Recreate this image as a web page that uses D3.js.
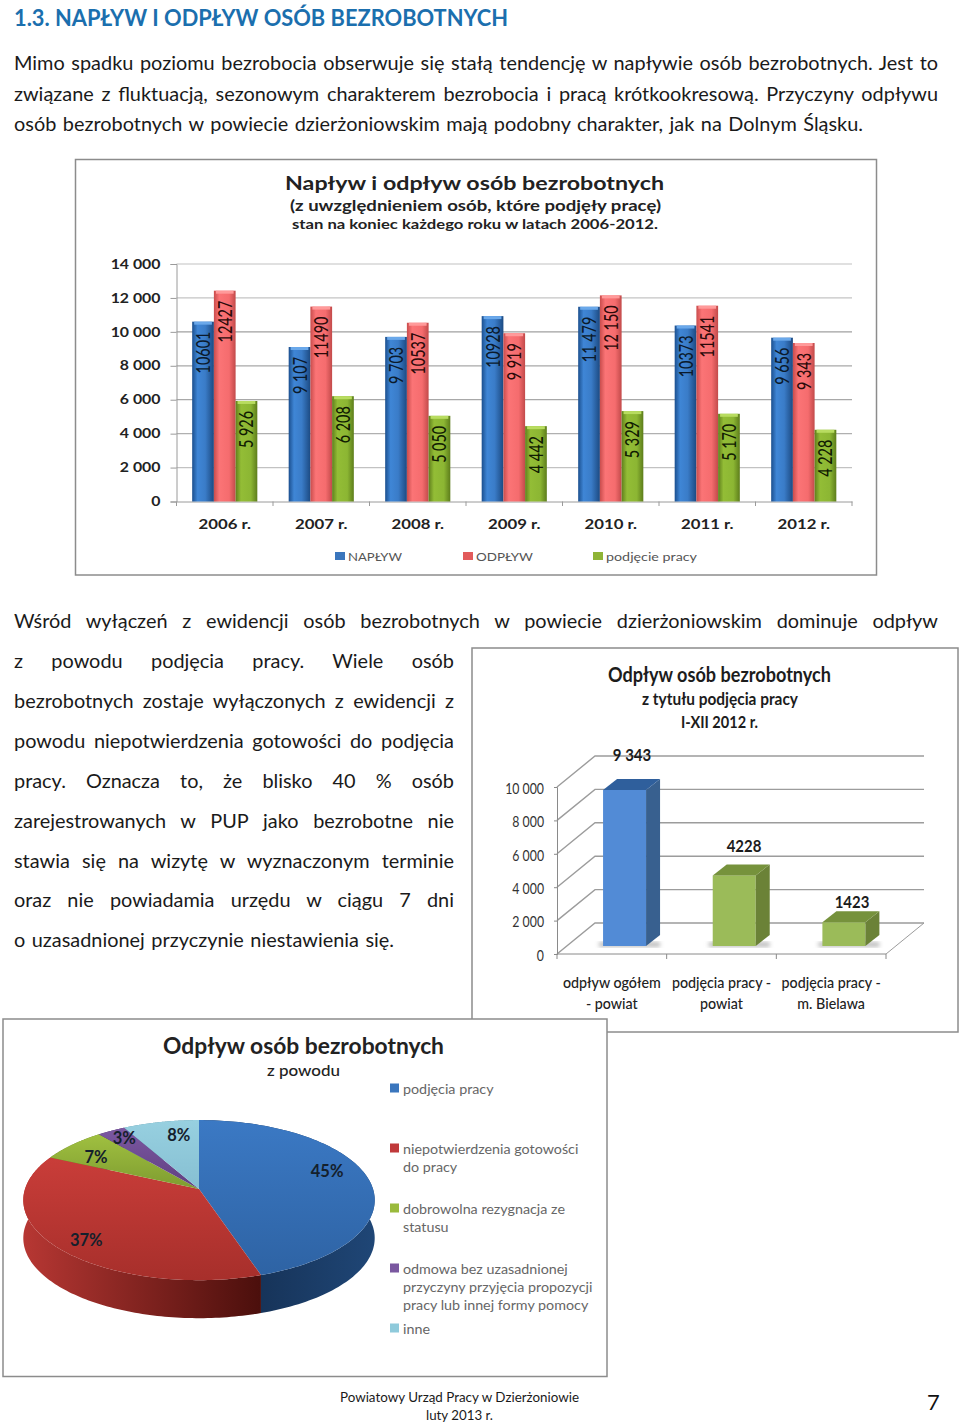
<!DOCTYPE html>
<html><head><meta charset="utf-8">
<script src="https://cdn.jsdelivr.net/npm/d3@7"></script>
<style>html,body{margin:0;padding:0;background:#fff}svg{display:block}text{font-family:Lato,"Open Sans",sans-serif}</style>
</head><body><svg id="s" width="960" height="1423"></svg>
<script>
// ---------- data ----------
const years = ["2006 r.","2007 r.","2008 r.","2009 r.","2010 r.","2011 r.","2012 r."];
const seriesNames = ["NAPŁYW","ODPŁYW","podjęcie pracy"];
const naplyw = [10601,9107,9703,10928,11479,10373,9656];
const odplyw = [12427,11490,10537,9919,12150,11541,9343];
const podjecie = [5926,6208,5050,4442,5329,5170,4228];
const naplywLabels = ["10601","9 107","9 703","10928","11 479","10373","9 656"];
const odplywLabels = ["12427","11490","10537","9 919","12 150","11541","9 343"];
const podjecieLabels = ["5 926","6 208","5 050","4 442","5 329","5 170","4 228"];
const ticks1 = [0,2000,4000,6000,8000,10000,12000,14000];
const tickLabels1 = ["0","2 000","4 000","6 000","8 000","10 000","12 000","14 000"];

const cats2 = ["odpływ ogółem|- powiat","podjęcia pracy -|powiat","podjęcia pracy -|m. Bielawa"];
const values2 = [9343,4228,1423];
const valueLabels2 = ["9 343","4228","1423"];
const ticks2 = [0,2000,4000,6000,8000,10000];
const tickLabels2 = ["0","2 000","4 000","6 000","8 000","10 000"];

const pieNames = ["podjęcia pracy","niepotwierdzenia gotowości|do pracy","dobrowolna rezygnacja ze|statusu","odmowa bez uzasadnionej|przyczyny przyjęcia propozycji|pracy lub innej formy pomocy","inne"];
const pieValues = [45,37,7,3,8];

const heading = "1.3. NAPŁYW I ODPŁYW OSÓB BEZROBOTNYCH";
const para1 = ["Mimo spadku poziomu bezrobocia obserwuje się stałą tendencję w napływie osób bezrobotnych. Jest to",
"związane z fluktuacją, sezonowym charakterem bezrobocia i pracą krótkookresową. Przyczyny odpływu",
"osób bezrobotnych w powiecie dzierżoniowskim mają podobny charakter, jak na Dolnym Śląsku."];
const para2 = ["Wśród wyłączeń z ewidencji osób bezrobotnych w powiecie dzierżoniowskim dominuje odpływ",
"z powodu podjęcia pracy. Wiele osób","bezrobotnych zostaje wyłączonych z ewidencji z",
"powodu niepotwierdzenia gotowości do podjęcia","pracy. Oznacza to, że blisko 40 % osób",
"zarejestrowanych w PUP jako bezrobotne nie","stawia się na wizytę w wyznaczonym terminie",
"oraz nie powiadamia urzędu w ciągu 7 dni","o uzasadnionej przyczynie niestawienia się."];

// ---------- helpers ----------
const svg = d3.select("#s");
const defs = svg.append("defs");
function T(p,str,x,y,o={}){
  const t=p.append("text").attr("x",x).attr("y",y).text(str)
    .attr("font-size",o.size||14).attr("font-weight",o.weight||400)
    .attr("fill",o.fill||"#111").attr("text-anchor",o.anchor||"start");
  if(o.w) t.attr("textLength",o.w).attr("lengthAdjust","spacingAndGlyphs");
  if(o.stretch) t.attr("textLength",t.node().getComputedTextLength()*o.stretch).attr("lengthAdjust","spacingAndGlyphs");
  if(o.justify!==undefined){
    const n=(str.match(/ /g)||[]).length, W=t.node().getComputedTextLength();
    t.style("word-spacing",((o.justify-W)/n)+"px");
  }
  return t;
}
function grad(id,stops,attrs){
  const g=defs.append("linearGradient").attr("id",id);
  Object.entries(attrs||{x1:0,y1:0,x2:1,y2:0}).forEach(([k,v])=>g.attr(k,v));
  stops.forEach(([o,c])=>g.append("stop").attr("offset",o).attr("stop-color",c));
}
function box(x0,y0,x1,y1){
  svg.append("rect").attr("x",x0).attr("y",y0).attr("width",x1-x0).attr("height",y1-y0)
    .attr("fill","#fff").attr("stroke","#8c8c8c").attr("stroke-width",1.5);
}

// ---------- page text ----------
T(svg,heading,14,26,{size:22,weight:700,fill:"#1b6fae",w:494});
[938,938,863].forEach((e,i)=>T(svg,para1[i],14,[70,101,131][i],{size:19.9,fill:"#1a1a1a",justify:e-14}));
const p2Ends=[938,454,454,454,454,454,454,454,394], p2Y=[628,668,708,748,788,828,868,907,947];
para2.forEach((l,i)=>T(svg,l,14,p2Y[i],{size:19.9,fill:"#1a1a1a",justify:p2Ends[i]-14}));

// ---------- chart 1 ----------
box(75.5,159.5,876.5,575);
T(svg,"Napływ i odpływ osób bezrobotnych",285,190,{size:19,weight:700,w:379,fill:"#222"});
T(svg,"(z uwzględnieniem osób, które podjęły pracę)",290,211,{size:15,weight:700,w:371,fill:"#222"});
T(svg,"stan na koniec każdego roku w latach 2006-2012.",292,229,{size:13.5,weight:700,w:366,fill:"#222"});

const x1=d3.scaleBand().domain(years).range([176.5,852]).paddingInner(0.325).paddingOuter(0.1625);
const y1=d3.scaleLinear().domain([0,14000]).range([501.5,264]);
const inner=d3.scaleBand().domain(seriesNames).range([0,x1.bandwidth()]);
const g1=svg.append("g");
g1.append("g").selectAll("line").data(ticks1.slice(1)).join("line")
  .attr("x1",176.5).attr("x2",852).attr("y1",d=>y1(d)).attr("y2",d=>y1(d))
  .attr("stroke",(d,i)=>[ "#c2c2c2","#b0b0b0","#a8a8a8","#a8a8a8","#a0a0a0","#c4c4c4","#d6d6d6"][i]).attr("stroke-width",1.3);
const axL=g1.append("g").attr("transform","translate(176.5,0)")
  .call(d3.axisLeft(y1).tickValues(ticks1).tickFormat((d,i)=>tickLabels1[i]).tickSize(6).tickPadding(10));
axL.selectAll("path,line").attr("stroke","#9a9a9a");
axL.selectAll("text").attr("font-size",13).attr("font-weight",700).attr("fill","#222").style("font-family","Lato")
  .each(function(){d3.select(this).attr("textLength",this.getComputedTextLength()*1.22).attr("lengthAdjust","spacingAndGlyphs");});
const axB=g1.append("g").attr("transform","translate(0,501.5)")
  .call(d3.axisBottom(x1).tickSize(0).tickPadding(18));
axB.select("path").attr("stroke","#9a9a9a");
axB.selectAll("text").attr("font-size",13.5).attr("font-weight",700).attr("fill","#222").style("font-family","Lato")
  .each(function(){d3.select(this).attr("textLength",this.getComputedTextLength()*1.24).attr("lengthAdjust","spacingAndGlyphs");});
const edges=years.map(y=>x1(y)-x1.step()*x1.paddingOuter()).concat([852]);
g1.append("g").selectAll("line").data(edges).join("line")
  .attr("x1",d=>d).attr("x2",d=>d).attr("y1",501.5).attr("y2",506).attr("stroke","#9a9a9a");

grad("bB",[[0,"#1b4f8e"],[.25,"#3f86d6"],[.6,"#3a7cc8"],[1,"#1c4a82"]]);
grad("bR",[[0,"#c94c4c"],[.25,"#fb7476"],[.7,"#f56c6e"],[1,"#c24a4a"]]);
grad("bG",[[0,"#5f7f1c"],[.25,"#93bd36"],[.7,"#8cb633"],[1,"#5d7d1b"]]);
const bFill=["url(#bB)","url(#bR)","url(#bG)"], capFill=["#6aa8ea","#ff9a9a","#b8dc60"], lblFill=["#0b1a2c","#2b0a0a","#111c02"];
const vals=[naplyw,odplyw,podjecie], lbls=[naplywLabels,odplywLabels,podjecieLabels];
seriesNames.forEach((s,si)=>{
  const g=g1.append("g");
  g.selectAll("rect.bar").data(vals[si]).join("rect").attr("class","bar")
    .attr("x",(d,i)=>x1(years[i])+inner(s)).attr("y",d=>y1(d))
    .attr("width",inner.bandwidth()).attr("height",d=>y1(0)-y1(d)).attr("fill",bFill[si]);
  g.selectAll("rect.cap").data(vals[si]).join("rect").attr("class","cap")
    .attr("x",(d,i)=>x1(years[i])+inner(s)+2).attr("y",d=>y1(d))
    .attr("width",inner.bandwidth()-4).attr("height",3).attr("fill",capFill[si]);
  g.selectAll("text").data(vals[si]).join("text")
    .attr("transform",(d,i)=>`translate(${x1(years[i])+inner(s)+inner.bandwidth()/2+7},${y1(d)+10}) rotate(-90)`)
    .attr("text-anchor","end").attr("font-size",20).attr("font-weight",500).attr("fill",lblFill[si])
    .text((d,i)=>lbls[si][i])
    .each(function(){d3.select(this).attr("textLength",this.getComputedTextLength()*0.72).attr("lengthAdjust","spacingAndGlyphs");});
});
const legX=[335,463,593], legW=[54,57,91], legC=["#3a76bd","#e25b5b","#8fb436"];
seriesNames.forEach((s,i)=>{
  svg.append("rect").attr("x",legX[i]).attr("y",552).attr("width",10).attr("height",8).attr("fill",legC[i]);
  T(svg,s,legX[i]+13,560.5,{size:12,fill:"#555",w:legW[i]});
});

// ---------- chart 2 ----------
box(472,648,958,1032);
T(svg,"Odpływ osób bezrobotnych",608,682,{size:21,weight:700,w:223,fill:"#1c1c1c"});
T(svg,"z tytułu podjęcia pracy",642,705,{size:17,weight:700,w:156,fill:"#1c1c1c"});
T(svg,"I-XII 2012 r.",681,728,{size:17,weight:700,w:77,fill:"#1c1c1c"});
const x2=d3.scaleBand().domain(cats2).range([557,886]);
const y2=d3.scaleLinear().domain([0,10000]).range([954,787]);
const depthX=38, depthY=31;
const g2=svg.append("g");
const wall=d3.line();
g2.append("g").selectAll("path").data(ticks2).join("path")
  .attr("d",d=>wall([[557,y2(d)],[557+depthX,y2(d)-depthY],[886+depthX,y2(d)-depthY]]))
  .attr("fill","none").attr("stroke","#9c9c9c").attr("stroke-width",1.4);
g2.append("path").attr("d",wall([[886,954],[886+depthX,954-depthY]])).attr("stroke","#9c9c9c").attr("fill","none");
const ax2=g2.append("g").attr("transform","translate(557,0)")
  .call(d3.axisLeft(y2).tickValues(ticks2).tickFormat((d,i)=>tickLabels2[i]).tickSize(3).tickPadding(10));
ax2.selectAll("path,line").attr("stroke","#8a8a8a");
ax2.selectAll("text").attr("font-size",15).attr("fill","#333").attr("dy","0.42em").style("font-family","Lato")
  .each(function(){d3.select(this).attr("textLength",this.getComputedTextLength()*.82).attr("lengthAdjust","spacingAndGlyphs");});
g2.append("line").attr("x1",557).attr("x2",886).attr("y1",954).attr("y2",954).attr("stroke","#8a8a8a");
g2.append("g").selectAll("line").data(cats2.map(c=>x2(c)).concat([886])).join("line")
  .attr("x1",d=>d).attr("x2",d=>d).attr("y1",954).attr("y2",959).attr("stroke","#8a8a8a");
defs.append("filter").attr("id","soft").append("feGaussianBlur").attr("stdDeviation",2);
const barW=43, sideX=14, sideY=11, baseLift=8;
const front2=["#528bd6","#9bbb59","#9bbb59"], side2=["#38608f","#6b8237","#6b8237"], top2=["#2f5f9c","#76923c","#76923c"];
const lblX=[632,744,852], lblY=[761,852,908];
values2.forEach((v,i)=>{
  const bx=x2(cats2[i])+x2.bandwidth()*0.42, yt=y2(v)-baseLift, yb=y2(0)-baseLift;
  const g=g2.append("g");
  g.append("rect").attr("x",bx-4).attr("y",yb-4).attr("width",barW+18).attr("height",5).attr("fill","#bdbdbd").attr("filter","url(#soft)");
  g.append("rect").attr("x",bx).attr("y",yt).attr("width",barW).attr("height",yb-yt).attr("fill",front2[i]);
  g.append("path").attr("d",wall([[bx+barW,yt],[bx+barW+sideX,yt-sideY],[bx+barW+sideX,yb-sideY],[bx+barW,yb]])+"Z").attr("fill",side2[i]);
  g.append("path").attr("d",wall([[bx,yt],[bx+sideX,yt-sideY],[bx+barW+sideX,yt-sideY],[bx+barW,yt]])+"Z").attr("fill",top2[i]);
  T(g2,valueLabels2[i],lblX[i],lblY[i],{size:17,weight:700,anchor:"middle",fill:"#1c1c1c",stretch:.88});
  cats2[i].split("|").forEach((l,k)=>T(g2,l,x2(cats2[i])+x2.bandwidth()*0.5,[988,1009][k],{size:15.5,anchor:"middle",fill:"#222",stretch:.92,weight:500}));
});

// ---------- pie ----------
box(3,1019,607,1376.5);
T(svg,"Odpływ osób bezrobotnych",163,1054,{size:23,weight:700,w:281,fill:"#222"});
T(svg,"z powodu",267,1076,{size:15.5,weight:500,w:73,fill:"#222"});
const cx=199, cy=1189, Rx=174, Sy=78.5, k=0.139, depth=38;
const proj=(a,r=1)=>{const u=r*Math.sin(a), v=-r*Math.cos(a), w=1-k*v; return [cx+Rx*u/w, cy+Sy*v/w];};
const arcs=d3.pie().sort(null)(pieValues);
const topC=[["#3b79c4","#2e63a4"],["#c93d39","#a72f2b"],["#a0c040","#7e9c30"],["#7c58a2","#5f3f80"],["#97d0e0","#86bfd2"]];
const wallC=[["#122a4a","#1f4676"],["#b73733","#4b0f0c"],["#5f7a20","#5f7a20"],["#4c3068","#4c3068"],["#5f95a8","#5f95a8"]];
arcs.forEach((a,i)=>{
  grad("pt"+i,[[0,topC[i][0]],[1,topC[i][1]]],{x1:0,y1:0,x2:0,y2:1});
  grad("pw"+i,[[0,wallC[i][0]],[1,wallC[i][1]]],{x1:0,y1:0,x2:1,y2:0});
});
const sample=a=>d3.range(0,121).map(j=>a.startAngle+(a.endAngle-a.startAngle)*j/120);
const gp=svg.append("g");
// walls, front slices last
[4,3,2,0,1].forEach(i=>{
  const pts=sample(arcs[i]).map(t=>proj(t));
  const low=pts.map(([x,y])=>[x,y+depth]).reverse();
  gp.append("path").attr("d",wall(pts.concat(low))+"Z").attr("fill",`url(#pw${i})`);
});
arcs.forEach((a,i)=>{
  const pts=[[cx,cy]].concat(sample(a).map(t=>proj(t)));
  gp.append("path").attr("d",wall(pts)+"Z").attr("fill",`url(#pt${i})`);
});
const nudgeX=[-7,0,0,-3,11], nudgeY=[-8,6,4,-3,1];
arcs.forEach((a,i)=>{
  const [lx,ly]=proj((a.startAngle+a.endAngle)/2,.8);
  T(gp,pieValues[i]+"%",lx+nudgeX[i],ly+nudgeY[i]+6,{size:16.5,weight:700,anchor:"middle",fill:"#14202c"});
});
const legY=[1088,1148,1208,1268,1328], legP=["#3a76bd","#c0393a","#9aba3c","#7a58a0","#8fcadb"];
pieNames.forEach((n,i)=>{
  svg.append("rect").attr("x",390).attr("y",legY[i]-4.5).attr("width",9).attr("height",9).attr("fill",legP[i]);
  n.split("|").forEach((l,k)=>T(svg,l,403,legY[i]+5.5+k*18.3,{size:14.3,fill:"#666"}));
});

// ---------- footer ----------
T(svg,"Powiatowy Urząd Pracy w Dzierżoniowie",340,1402,{size:14,w:239,fill:"#1a1a1a"});
T(svg,"luty 2013 r.",426,1420,{size:14,w:67,fill:"#1a1a1a"});
T(svg,"7",927,1410,{size:22,fill:"#111"});
</script></body></html>
